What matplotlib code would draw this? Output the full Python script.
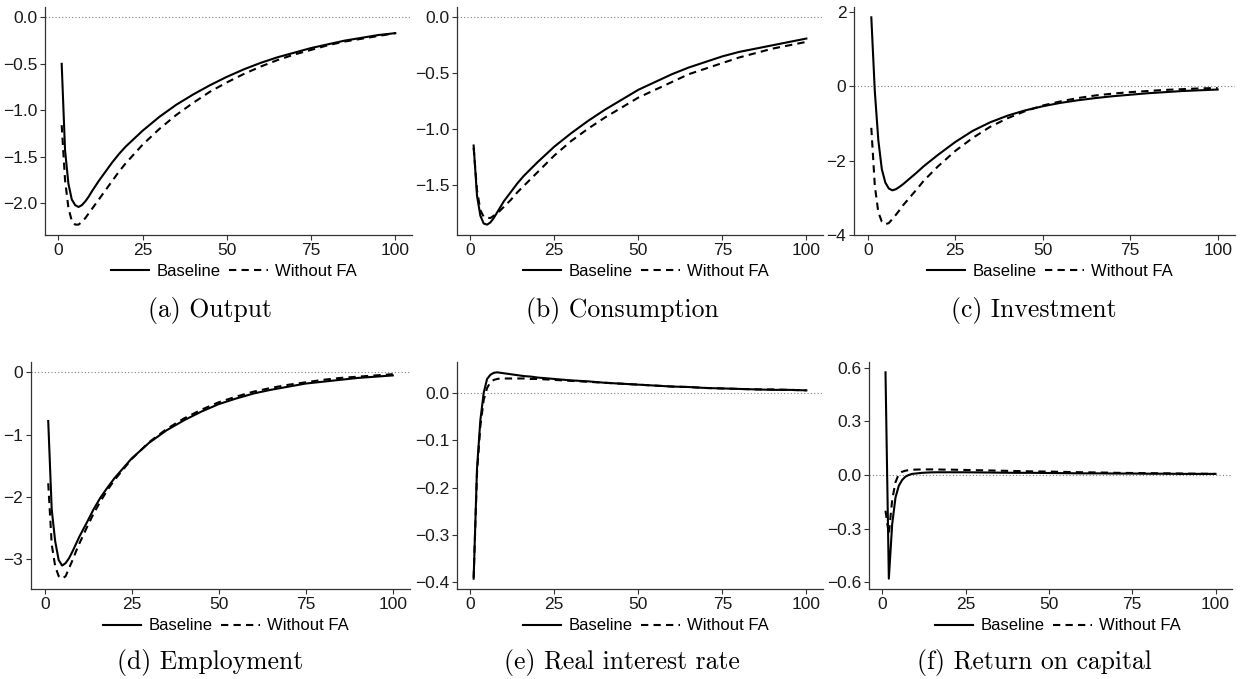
import matplotlib
matplotlib.use("Agg")
import matplotlib.pyplot as plt

plt.rcParams['font.family'] = ['Liberation Sans', 'DejaVu Sans']

periods = [1, 2, 3, 4, 5, 6, 7, 8, 9, 10, 12, 14, 16, 18, 20, 25, 30, 35, 40, 45, 50,
           55, 60, 65, 70, 75, 80, 85, 90, 95, 100]

output_base = [-0.50, -1.43, -1.79, -1.96, -2.02, -2.04, -2.02, -1.98, -1.93, -1.87, -1.76, -1.66, -1.56,
               -1.47, -1.39, -1.22, -1.07, -0.94, -0.83, -0.73, -0.64, -0.56, -0.49, -0.43, -0.38,
               -0.33, -0.29, -0.25, -0.22, -0.19, -0.17]
output_nofa = [-1.16, -1.75, -2.05, -2.19, -2.23, -2.23, -2.20, -2.16, -2.11, -2.06, -1.96, -1.86, -1.76,
               -1.66, -1.57, -1.37, -1.20, -1.05, -0.92, -0.80, -0.70, -0.61, -0.53, -0.46, -0.40,
               -0.35, -0.30, -0.26, -0.23, -0.20, -0.17]

cons_base = [-1.15, -1.60, -1.78, -1.85, -1.86, -1.84, -1.80, -1.75, -1.70, -1.65, -1.57, -1.49, -1.42,
             -1.36, -1.30, -1.16, -1.04, -0.93, -0.83, -0.74, -0.65, -0.58, -0.51, -0.45, -0.40,
             -0.35, -0.31, -0.28, -0.25, -0.22, -0.19]
cons_nofa = [-1.17, -1.55, -1.73, -1.79, -1.80, -1.80, -1.78, -1.76, -1.73, -1.70, -1.64, -1.57, -1.51,
             -1.45, -1.39, -1.24, -1.11, -1.00, -0.90, -0.81, -0.72, -0.65, -0.58, -0.51, -0.46,
             -0.41, -0.36, -0.32, -0.28, -0.25, -0.22]

inv_base = [1.85, -0.14, -1.45, -2.23, -2.59, -2.75, -2.80, -2.77, -2.71, -2.64, -2.48, -2.32, -2.15,
            -2.00, -1.85, -1.50, -1.20, -0.97, -0.79, -0.65, -0.54, -0.45, -0.38, -0.32, -0.27,
            -0.23, -0.19, -0.16, -0.13, -0.11, -0.09]
inv_nofa = [-1.12, -2.68, -3.39, -3.64, -3.71, -3.68, -3.57, -3.46, -3.34, -3.21, -2.99, -2.77, -2.54,
            -2.35, -2.16, -1.74, -1.39, -1.09, -0.86, -0.67, -0.52, -0.41, -0.32, -0.25, -0.20,
            -0.16, -0.13, -0.10, -0.08, -0.06, -0.05]

emp_base = [-0.78, -2.20, -2.71, -3.01, -3.10, -3.06, -2.98, -2.87, -2.75, -2.63, -2.42, -2.20, -2.01,
            -1.85, -1.70, -1.38, -1.13, -0.93, -0.77, -0.63, -0.51, -0.42, -0.34, -0.28, -0.23,
            -0.18, -0.15, -0.12, -0.09, -0.07, -0.05]
emp_nofa = [-1.78, -2.76, -3.11, -3.27, -3.31, -3.27, -3.14, -3.01, -2.87, -2.74, -2.50, -2.27, -2.07,
            -1.89, -1.73, -1.39, -1.12, -0.91, -0.74, -0.60, -0.48, -0.39, -0.31, -0.25, -0.20,
            -0.16, -0.12, -0.09, -0.07, -0.05, -0.03]

rate_base = [-0.392, -0.160, -0.058, 0.000, 0.029, 0.038, 0.042, 0.043, 0.042, 0.041, 0.039, 0.037, 0.035,
             0.034, 0.032, 0.029, 0.026, 0.024, 0.021, 0.019, 0.017, 0.015, 0.013, 0.012, 0.010,
             0.009, 0.008, 0.007, 0.006, 0.006, 0.005]
rate_nofa = [-0.390, -0.170, -0.070, -0.015, 0.010, 0.022, 0.027, 0.029, 0.030, 0.030, 0.030, 0.030, 0.030,
             0.029, 0.029, 0.027, 0.025, 0.023, 0.021, 0.019, 0.017, 0.015, 0.013, 0.012, 0.010,
             0.009, 0.008, 0.007, 0.007, 0.006, 0.005]

rk_base = [0.574, -0.580, -0.276, -0.126, -0.060, -0.028, -0.009, 0.000, 0.006, 0.008, 0.012, 0.014, 0.015,
           0.015, 0.015, 0.015, 0.014, 0.013, 0.012, 0.012, 0.011, 0.010, 0.009, 0.009, 0.008,
           0.008, 0.007, 0.007, 0.006, 0.006, 0.006]
rk_nofa = [-0.20, -0.33, -0.14, -0.04, 0.005, 0.018, 0.024, 0.027, 0.029, 0.030, 0.031, 0.031, 0.031,
           0.030, 0.030, 0.028, 0.026, 0.024, 0.022, 0.020, 0.019, 0.017, 0.015, 0.014, 0.012,
           0.011, 0.010, 0.009, 0.008, 0.007, 0.006]

captions = ["(a) Output", "(b) Consumption", "(c) Investment",
            "(d) Employment", "(e) Real interest rate", "(f) Return on capital"]
yticks = [[0.0, -0.5, -1.0, -1.5, -2.0], [0.0, -0.5, -1.0, -1.5], [2, 0, -2, -4],
          [0, -1, -2, -3], [0.0, -0.1, -0.2, -0.3, -0.4], [0.6, 0.3, 0.0, -0.3, -0.6]]
xticks = [0, 25, 50, 75, 100]
series = [(output_base, output_nofa), (cons_base, cons_nofa), (inv_base, inv_nofa),
          (emp_base, emp_nofa), (rate_base, rate_nofa), (rk_base, rk_nofa)]

W, H = 1241, 679
fig = plt.figure(figsize=(W / 100, H / 100), dpi=100)

# pixel boxes (left, right) per panel, rows (top, bottom)
cols = [(45, 412), (457, 823), (854, 1235), (31, 410), (457, 823), (869, 1232)]
rows = [(7, 235), (7, 235), (7, 235), (362, 589), (362, 589), (362, 589)]
leg_xy = [(234, 271), (646, 271), (1050, 271), (226, 626), (646, 626), (1058, 626)]
cap_xy = [(210, 311), (622, 311), (1034, 311), (210, 663), (622, 663), (1034, 663)]

for i in range(6):
    l, r = cols[i]
    t, b = rows[i]
    ax = fig.add_axes([l / W, 1 - b / H, (r - l) / W, (b - t) / H])
    base, nofa = series[i]
    ax.axhline(0, color='#7f7f7f', lw=0.8, ls=(0, (1, 2)), zorder=1)
    ax.plot(periods, base, color='black', lw=1.5, label='Baseline', zorder=3)
    ax.plot(periods, nofa, color='black', lw=1.5, ls=(0, (3.5, 2.5)), label='Without FA', zorder=2)

    lo = min(min(base), min(nofa), 0)
    hi = max(max(base), max(nofa), 0)
    pad = 0.05 * (hi - lo)
    ax.set_ylim(lo - pad, hi + pad)
    ax.set_xlim(1 - 4.95, 100 + 4.95)

    ticks = yticks[i]
    if i in (2, 3):
        labels = ['%d' % v for v in ticks]
    else:
        labels = ['%.1f' % v for v in ticks]
    labels = [s.replace('-', '\u2212') for s in labels]
    ax.set_yticks(ticks)
    ax.set_yticklabels(labels)
    ax.set_xticks(xticks)

    for side in ['top', 'right']:
        ax.spines[side].set_visible(False)
    for side in ['left', 'bottom']:
        ax.spines[side].set_color('#333333')
        ax.spines[side].set_linewidth(0.9)
    ax.tick_params(axis='both', length=3.5, width=0.8, color='#333333',
                   labelsize=12.5, labelcolor='#1a1a1a', pad=2)

    lx, ly = leg_xy[i]
    ax.legend(loc='center', bbox_to_anchor=(lx / W, 1 - ly / H), bbox_transform=fig.transFigure,
              ncol=2, frameon=False, fontsize=12, handlelength=2.3, handletextpad=0.45,
              columnspacing=0.5, borderpad=0, borderaxespad=0)

    cx, cy = cap_xy[i]
    fig.text(cx / W, 1 - cy / H, captions[i], ha='center', va='center',
             fontsize=18.5, family='cmr10')

fig.savefig('out.png', dpi=100)
